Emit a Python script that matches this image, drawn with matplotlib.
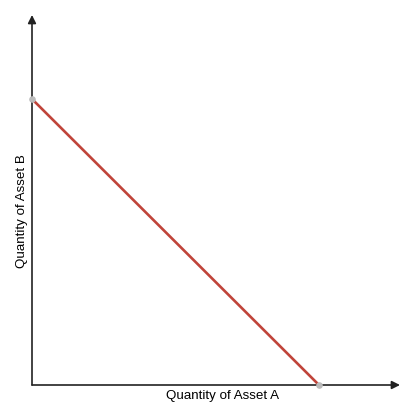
import matplotlib
matplotlib.use("Agg")
import matplotlib.pyplot as plt

# budget line end points (quantity of asset A, quantity of asset B)
asset_a = [0, 10]
asset_b = [10, 0]

plt.rcParams['font.family'] = ['Liberation Sans', 'DejaVu Sans']

W, H = 417, 414
fig = plt.figure(figsize=(W / 100, H / 100), dpi=100)
ax = fig.add_axes([32 / W, 28 / H, (400 - 32) / W, (386 - 16) / H])
ax.set_xlim(0, 10 * (400 - 32) / (319 - 32))
ax.set_ylim(0, 10 * (386 - 16) / (386 - 100))
for s in ax.spines.values():
    s.set_visible(False)
ax.set_xticks([])
ax.set_yticks([])
ax.patch.set_alpha(0)

# axes with arrows
arrow = dict(arrowstyle='-|>', color='#222222', lw=1.2, mutation_scale=12,
             shrinkA=0, shrinkB=0)
ax.annotate('', xy=(1, 0), xytext=(0, 0), xycoords='axes fraction', arrowprops=arrow)
ax.annotate('', xy=(0, 1), xytext=(0, 0), xycoords='axes fraction', arrowprops=arrow)

ax.plot(asset_a, asset_b, color='#c0443a', lw=1.9, solid_capstyle='butt', zorder=3)
ax.scatter(asset_a, asset_b, s=14, color='#bbbbbb', zorder=4, clip_on=False)

fig.text(222 / W, 1 - 396 / H, 'Quantity of Asset A', ha='center', va='center', fontsize=9.6)
fig.text(22 / W, 1 - 211 / H, 'Quantity of Asset B', ha='center', va='center',
         rotation=90, fontsize=9.6)

fig.savefig('out.png', dpi=100)
